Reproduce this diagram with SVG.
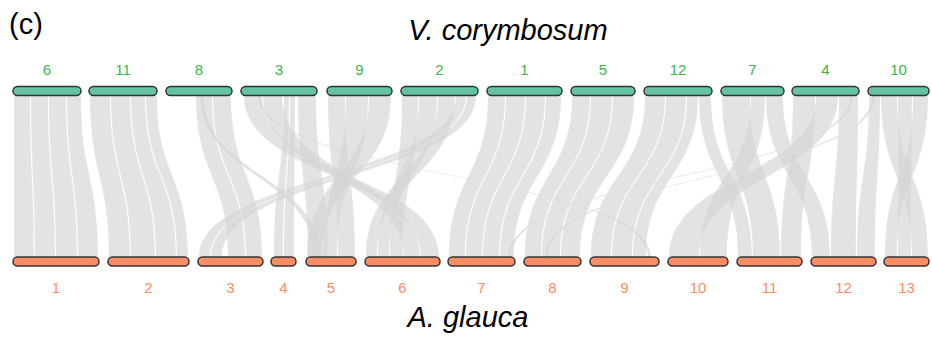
<svg xmlns="http://www.w3.org/2000/svg" width="932" height="339" viewBox="0 0 932 339">
<style>
.t{font-family:"Liberation Sans",Arial,sans-serif}
.bt{fill:#66c2a5;stroke:#333;stroke-width:1.5}
.bb{fill:#fc8d62;stroke:#333;stroke-width:1.5}
.lt{font-family:"Liberation Sans",Arial,sans-serif;font-size:15px;fill:#3cb44b;text-anchor:middle}
.lb{font-family:"Liberation Sans",Arial,sans-serif;font-size:15px;fill:#fc8d62;text-anchor:middle}
.sp{font-family:"Liberation Sans",Arial,sans-serif;font-size:29px;font-style:italic;fill:#000;text-anchor:middle}
#links path{fill:#d4d4d4;fill-opacity:.65;stroke:#fff;stroke-opacity:.35;stroke-width:.35}
</style>
<rect width="932" height="339" fill="#fff"/>
<text class="t" x="9" y="34" font-size="29">(c)</text>
<text class="sp" x="508" y="40">V. corymbosum</text>
<text class="sp" x="468" y="327">A. glauca</text>
<g id="links">
<path d="M14,96 C14,176 14,176 14,257 L34,257 C34,176 30,176 30,96 Z"/>
<path d="M31,96 C31,176 35,176 35,257 L55,257 C55,176 48,176 48,96 Z"/>
<path d="M49,96 C49,176 56,176 56,257 L77,257 C77,176 66,176 66,96 Z"/>
<path d="M67,96 C67,176 78,176 78,257 L98,257 C98,176 81,176 81,96 Z"/>
<path d="M90,96 C90,176 109,176 109,257 L130,257 C130,176 110,176 110,96 Z"/>
<path d="M111,96 C111,176 131,176 131,257 L155,257 C155,176 130,176 130,96 Z"/>
<path d="M131,96 C131,176 156,176 156,257 L176,257 C176,176 145,176 145,96 Z"/>
<path d="M146,96 C146,176 177,176 177,257 L188,257 C188,176 157,176 157,96 Z"/>
<path d="M196,96 C196,176 228,176 228,257 L245,257 C245,176 212,176 212,96 Z"/>
<path d="M213,96 C213,176 246,176 246,257 L262,257 C262,176 231,176 231,96 Z"/>
<path d="M200,96 C200,176 314,176 314,257 L320,257 C320,176 204,176 204,96 Z"/>
<path d="M456,96 C456,176 199,176 199,257 L210,257 C210,176 466,176 466,96 Z"/>
<path d="M467,96 C467,176 211,176 211,257 L222,257 C222,176 476,176 476,96 Z"/>
<path d="M244,96 C244,176 421,176 421,257 L439,257 C439,176 262,176 262,96 Z"/>
<path d="M263,96 C263,176 404,176 404,257 L420,257 C420,176 282,176 282,96 Z"/>
<path d="M284,96 C284,176 274,176 274,257 L283,257 C283,176 289,176 289,96 Z"/>
<path d="M290,96 C290,176 284,176 284,257 L294,257 C294,176 295,176 295,96 Z"/>
<path d="M298,96 C298,176 308,176 308,257 L328,257 C328,176 316,176 316,96 Z"/>
<path d="M258,96 C258,176 648,176 648,257 L651,257 C651,176 261,176 261,96 Z"/>
<path d="M328,96 C328,176 338,176 338,257 L355,257 C355,176 345,176 345,96 Z"/>
<path d="M346,96 C346,176 323,176 323,257 L337,257 C337,176 368,176 368,96 Z"/>
<path d="M369,96 C369,176 307,176 307,257 L322,257 C322,176 391,176 391,96 Z"/>
<path d="M402,96 C402,176 390,176 390,257 L403,257 C403,176 418,176 418,96 Z"/>
<path d="M419,96 C419,176 378,176 378,257 L389,257 C389,176 437,176 437,96 Z"/>
<path d="M438,96 C438,176 366,176 366,257 L377,257 C377,176 455,176 455,96 Z"/>
<path d="M488,96 C488,176 449,176 449,257 L465,257 C465,176 505,176 505,96 Z"/>
<path d="M506,96 C506,176 466,176 466,257 L482,257 C482,176 525,176 525,96 Z"/>
<path d="M526,96 C526,176 483,176 483,257 L499,257 C499,176 545,176 545,96 Z"/>
<path d="M546,96 C546,176 500,176 500,257 L514,257 C514,176 561,176 561,96 Z"/>
<path d="M572,96 C572,176 525,176 525,257 L541,257 C541,176 590,176 590,96 Z"/>
<path d="M591,96 C591,176 542,176 542,257 L560,257 C560,176 612,176 612,96 Z"/>
<path d="M613,96 C613,176 561,176 561,257 L580,257 C580,176 634,176 634,96 Z"/>
<path d="M645,96 C645,176 591,176 591,257 L611,257 C611,176 665,176 665,96 Z"/>
<path d="M666,96 C666,176 612,176 612,257 L632,257 C632,176 686,176 686,96 Z"/>
<path d="M687,96 C687,176 633,176 633,257 L646,257 C646,176 698,176 698,96 Z"/>
<path d="M699,96 C699,176 738,176 738,257 L752,257 C752,176 711,176 711,96 Z"/>
<path d="M722,96 C722,176 753,176 753,257 L780,257 C780,176 750,176 750,96 Z"/>
<path d="M751,96 C751,176 700,176 700,257 L727,257 C727,176 765,176 765,96 Z"/>
<path d="M766,96 C766,176 812,176 812,257 L830,257 C830,176 783,176 783,96 Z"/>
<path d="M793,96 C793,176 781,176 781,257 L801,257 C801,176 815,176 815,96 Z"/>
<path d="M816,96 C816,176 669,176 669,257 L699,257 C699,176 838,176 838,96 Z"/>
<path d="M839,96 C839,176 831,176 831,257 L856,257 C856,176 858,176 858,96 Z"/>
<path d="M869,96 C869,176 857,176 857,257 L875,257 C875,176 880,176 880,96 Z"/>
<path d="M850,96 C850,176 508,176 508,257 L511,257 C511,176 853,176 853,96 Z"/>
<path d="M872,96 C872,176 545,176 545,257 L548,257 C548,176 875,176 875,96 Z"/>
<path d="M881,96 C881,176 912,176 912,257 L928,257 C928,176 897,176 897,96 Z"/>
<path d="M898,96 C898,176 898,176 898,257 L911,257 C911,176 912,176 912,96 Z"/>
<path d="M913,96 C913,176 885,176 885,257 L897,257 C897,176 928,176 928,96 Z"/>
</g>
<g id="top-6"><rect class="bt" x="13" y="86.5" width="68" height="9" rx="4.5"/><text class="lt" x="47" y="75">6</text></g>
<g id="top-11"><rect class="bt" x="89" y="86.5" width="68" height="9" rx="4.5"/><text class="lt" x="123" y="75">11</text></g>
<g id="top-8"><rect class="bt" x="166" y="86.5" width="66" height="9" rx="4.5"/><text class="lt" x="199" y="75">8</text></g>
<g id="top-3"><rect class="bt" x="241" y="86.5" width="76" height="9" rx="4.5"/><text class="lt" x="279" y="75">3</text></g>
<g id="top-9"><rect class="bt" x="327" y="86.5" width="65" height="9" rx="4.5"/><text class="lt" x="359.5" y="75">9</text></g>
<g id="top-2"><rect class="bt" x="401" y="86.5" width="77" height="9" rx="4.5"/><text class="lt" x="439.5" y="75">2</text></g>
<g id="top-1"><rect class="bt" x="487" y="86.5" width="75" height="9" rx="4.5"/><text class="lt" x="524.5" y="75">1</text></g>
<g id="top-5"><rect class="bt" x="571" y="86.5" width="64" height="9" rx="4.5"/><text class="lt" x="603" y="75">5</text></g>
<g id="top-12"><rect class="bt" x="644" y="86.5" width="68" height="9" rx="4.5"/><text class="lt" x="678" y="75">12</text></g>
<g id="top-7"><rect class="bt" x="721" y="86.5" width="63" height="9" rx="4.5"/><text class="lt" x="752.5" y="75">7</text></g>
<g id="top-4"><rect class="bt" x="792" y="86.5" width="67" height="9" rx="4.5"/><text class="lt" x="825.5" y="75">4</text></g>
<g id="top-10"><rect class="bt" x="868" y="86.5" width="61" height="9" rx="4.5"/><text class="lt" x="898.5" y="75">10</text></g>
<g id="bot-1"><rect class="bb" x="13" y="257" width="86" height="9" rx="4.5"/><text class="lb" x="56" y="293">1</text></g>
<g id="bot-2"><rect class="bb" x="108" y="257" width="81" height="9" rx="4.5"/><text class="lb" x="148.5" y="293">2</text></g>
<g id="bot-3"><rect class="bb" x="198" y="257" width="65" height="9" rx="4.5"/><text class="lb" x="230.5" y="293">3</text></g>
<g id="bot-4"><rect class="bb" x="271" y="257" width="25" height="9" rx="4.5"/><text class="lb" x="283.5" y="293">4</text></g>
<g id="bot-5"><rect class="bb" x="306" y="257" width="50" height="9" rx="4.5"/><text class="lb" x="331" y="293">5</text></g>
<g id="bot-6"><rect class="bb" x="365" y="257" width="75" height="9" rx="4.5"/><text class="lb" x="402.5" y="293">6</text></g>
<g id="bot-7"><rect class="bb" x="448" y="257" width="67" height="9" rx="4.5"/><text class="lb" x="481.5" y="293">7</text></g>
<g id="bot-8"><rect class="bb" x="524" y="257" width="57" height="9" rx="4.5"/><text class="lb" x="552.5" y="293">8</text></g>
<g id="bot-9"><rect class="bb" x="590" y="257" width="69" height="9" rx="4.5"/><text class="lb" x="624.5" y="293">9</text></g>
<g id="bot-10"><rect class="bb" x="668" y="257" width="60" height="9" rx="4.5"/><text class="lb" x="698" y="293">10</text></g>
<g id="bot-11"><rect class="bb" x="737" y="257" width="65" height="9" rx="4.5"/><text class="lb" x="769.5" y="293">11</text></g>
<g id="bot-12"><rect class="bb" x="811" y="257" width="65" height="9" rx="4.5"/><text class="lb" x="843.5" y="293">12</text></g>
<g id="bot-13"><rect class="bb" x="884" y="257" width="45" height="9" rx="4.5"/><text class="lb" x="906.5" y="293">13</text></g>
</svg>
